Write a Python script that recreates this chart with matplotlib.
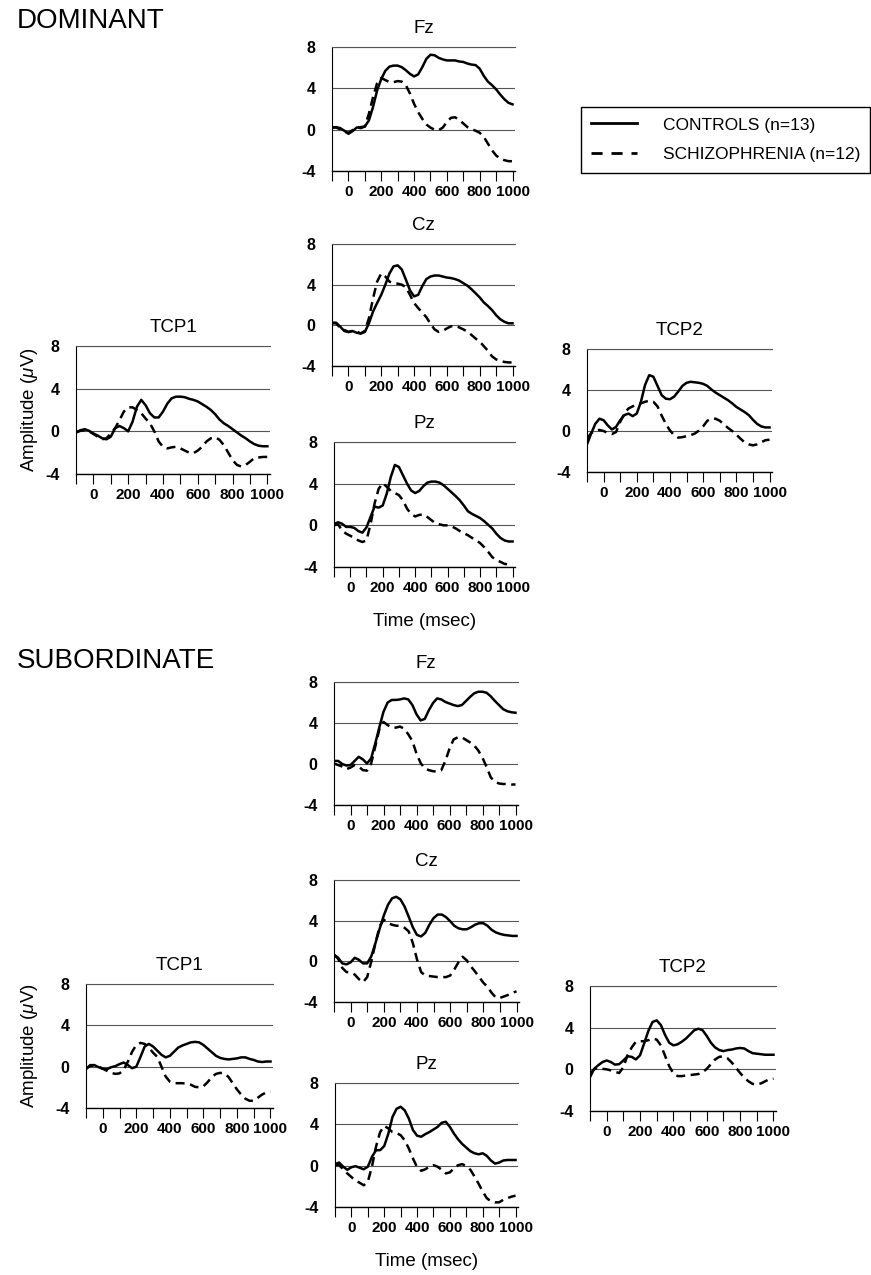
import numpy as np
import matplotlib
matplotlib.use('Agg')
from matplotlib import pyplot as plt
from matplotlib.lines import Line2D
from matplotlib.ticker import FixedLocator

plt.rcParams['font.family'] = ['Liberation Sans', 'DejaVu Sans']
plt.rcParams['axes.unicode_minus'] = False
plt.rcParams['mathtext.fontset'] = 'custom'
plt.rcParams['mathtext.rm'] = 'Liberation Sans'
plt.rcParams['mathtext.it'] = 'Liberation Sans:italic'

W, H = 871, 1275

# sample times (ms), one value every 25 ms
time_ms = np.arange(-100, 1001, 25)

# ---- DOMINANT ----
dom_fz_ctrl = [0.16, 0.25, 0.15, -0.1, -0.4, -0.15, 0.2, 0.25, 0.3, 0.9, 2.2, 3.8, 4.9, 5.7, 6.1,
               6.2, 6.2, 6.05, 5.75, 5.4, 5.15, 5.35, 6.05, 6.85, 7.25, 7.2, 6.95, 6.8, 6.7, 6.7,
               6.7, 6.6, 6.55, 6.4, 6.3, 6.25, 5.9, 5.2, 4.65, 4.3, 3.9, 3.4, 2.95, 2.6, 2.45]
dom_fz_scz = [0.25, 0.2, 0.05, -0.2, -0.3, -0.05, 0.25, 0.15, 0.3, 1.55, 3.15, 4.5, 5.0, 4.8, 4.6,
              4.6, 4.7, 4.65, 4.3, 3.5, 2.5, 1.7, 1.05, 0.5, 0.2, 0.0, -0.05, 0.2, 0.75, 1.15,
              1.2, 0.95, 0.6, 0.25, 0.05, -0.1, -0.3, -0.7, -1.35, -2.0, -2.5, -2.8, -2.95, -3.05, -3.05]

dom_cz_ctrl = [0.26, 0.26, -0.13, -0.56, -0.66, -0.56, -0.73, -0.8, -0.66, 0.2, 1.35, 2.2, 3.0, 4.0, 5.1,
               5.8, 5.9, 5.5, 4.5, 3.45, 2.85, 3.0, 3.85, 4.55, 4.8, 4.9, 4.9, 4.8, 4.7, 4.65,
               4.55, 4.4, 4.15, 3.9, 3.55, 3.15, 2.75, 2.25, 1.9, 1.5, 1.0, 0.6, 0.35, 0.2, 0.2]
dom_cz_scz = [0.2, 0.2, -0.25, -0.45, -0.65, -0.55, -0.6, -0.8, -0.55, 0.7, 2.65, 4.3, 5.1, 4.8, 4.3,
              4.15, 4.1, 4.0, 3.75, 3.0, 2.2, 1.7, 1.25, 0.8, 0.15, -0.4, -0.65, -0.55, -0.3, -0.1,
              -0.05, -0.2, -0.4, -0.6, -0.95, -1.3, -1.6, -2.05, -2.5, -3.05, -3.35, -3.5, -3.6, -3.65, -3.65]

dom_pz_ctrl = [0.1, 0.3, 0.15, -0.15, -0.15, -0.25, -0.55, -0.7, -0.2, 0.8, 1.8, 1.7, 1.9, 3.05, 4.65,
               5.8, 5.6, 4.8, 4.0, 3.35, 3.1, 3.3, 3.75, 4.1, 4.2, 4.2, 4.1, 3.85, 3.5, 3.15,
               2.8, 2.4, 1.9, 1.35, 1.1, 0.9, 0.7, 0.4, 0.05, -0.3, -0.8, -1.2, -1.45, -1.55, -1.55]
dom_pz_scz = [0.0, 0.1, -0.5, -0.8, -1.0, -1.2, -1.45, -1.6, -1.45, 0.1, 2.1, 3.5, 4.05, 3.7, 3.3,
              3.1, 2.9, 2.4, 1.6, 1.1, 0.85, 1.0, 1.05, 0.8, 0.5, 0.2, 0.1, 0.0, 0.0, -0.1,
              -0.3, -0.55, -0.75, -0.95, -1.2, -1.45, -1.7, -2.1, -2.55, -3.05, -3.35, -3.5, -3.7, -3.75, -3.7]

dom_tcp1_ctrl = [-0.1, 0.1, 0.2, 0.05, -0.2, -0.4, -0.65, -0.75, -0.5, 0.3, 0.5, 0.3, 0.0, 0.9, 2.3,
                 2.95, 2.45, 1.7, 1.3, 1.3, 1.85, 2.6, 3.1, 3.25, 3.25, 3.2, 3.05, 2.95, 2.8, 2.55,
                 2.3, 2.0, 1.6, 1.1, 0.75, 0.5, 0.2, -0.1, -0.4, -0.65, -0.95, -1.2, -1.35, -1.4, -1.4]
dom_tcp1_scz = [-0.1, 0.05, 0.1, 0.0, -0.25, -0.5, -0.75, -0.65, -0.2, 0.3, 1.05, 1.85, 2.25, 2.25, 2.0,
                1.7, 1.2, 0.75, 0.0, -0.95, -1.45, -1.6, -1.5, -1.45, -1.6, -1.8, -2.0, -2.05, -1.8, -1.45,
                -0.95, -0.65, -0.55, -0.8, -1.3, -2.0, -2.7, -3.15, -3.3, -3.15, -2.85, -2.5, -2.45, -2.4, -2.4]

dom_tcp2_ctrl = [-1.3, -0.25, 0.7, 1.2, 1.05, 0.55, 0.15, 0.4, 1.05, 1.55, 1.7, 1.45, 1.7, 2.85, 4.5,
                 5.45, 5.3, 4.4, 3.5, 3.15, 3.1, 3.35, 3.85, 4.4, 4.7, 4.8, 4.75, 4.7, 4.6, 4.4,
                 4.05, 3.75, 3.5, 3.25, 3.0, 2.7, 2.35, 2.1, 1.85, 1.55, 1.1, 0.7, 0.45, 0.35, 0.35]
dom_tcp2_scz = [-0.75, -0.2, 0.05, 0.1, 0.0, -0.2, -0.3, -0.1, 0.9, 1.7, 2.2, 2.4, 2.6, 2.7, 2.85,
                2.95, 2.85, 2.4, 1.5, 0.7, 0.05, -0.4, -0.65, -0.6, -0.5, -0.4, -0.25, 0.05, 0.45, 1.0,
                1.2, 1.2, 1.0, 0.65, 0.3, 0.0, -0.35, -0.75, -1.1, -1.3, -1.4, -1.3, -1.1, -0.9, -0.85]

# ---- SUBORDINATE ----
sub_fz_ctrl = [0.3, 0.3, 0.0, -0.15, -0.1, 0.3, 0.7, 0.45, 0.05, 0.55, 2.0, 3.6, 5.1, 6.0, 6.25,
               6.25, 6.3, 6.4, 6.3, 5.75, 4.85, 4.25, 4.4, 5.25, 5.95, 6.4, 6.3, 6.05, 5.9, 5.75,
               5.65, 5.75, 6.15, 6.55, 6.9, 7.05, 7.05, 6.95, 6.6, 6.15, 5.75, 5.35, 5.15, 5.05, 5.0]
sub_fz_scz = [0.05, -0.1, -0.25, -0.5, -0.35, -0.1, -0.25, -0.6, -0.65, 0.05, 1.7, 3.4, 4.1, 3.8, 3.55,
              3.55, 3.65, 3.45, 2.9, 2.25, 1.0, 0.1, -0.45, -0.6, -0.7, -0.75, -0.6, 0.3, 1.5, 2.4,
              2.6, 2.6, 2.35, 2.1, 1.8, 1.3, 0.6, -0.3, -1.3, -1.75, -1.9, -1.95, -1.95, -2.0, -2.0]

sub_cz_ctrl = [0.65, 0.35, -0.2, -0.3, -0.1, 0.35, 0.15, -0.2, -0.2, 0.5, 1.8, 3.2, 4.5, 5.55, 6.2,
               6.35, 6.1, 5.4, 4.4, 3.35, 2.6, 2.45, 2.8, 3.6, 4.25, 4.6, 4.6, 4.35, 3.95, 3.5,
               3.25, 3.15, 3.15, 3.35, 3.6, 3.75, 3.75, 3.5, 3.1, 2.85, 2.7, 2.6, 2.55, 2.5, 2.5]
sub_cz_scz = [0.65, 0.25, -0.65, -1.05, -1.1, -1.3, -1.75, -2.05, -1.55, 0.0, 1.8, 3.45, 4.1, 3.75, 3.6,
              3.5, 3.5, 3.3, 2.95, 1.8, 0.2, -1.05, -1.4, -1.45, -1.5, -1.55, -1.55, -1.55, -1.4, -0.8,
              -0.1, 0.45, 0.1, -0.5, -1.0, -1.55, -2.1, -2.5, -3.1, -3.55, -3.6, -3.45, -3.3, -3.1, -2.95]

sub_pz_ctrl = [0.15, 0.3, -0.1, -0.4, -0.15, -0.05, -0.2, -0.35, -0.1, 0.85, 1.5, 1.5, 1.9, 3.1, 4.7,
               5.5, 5.7, 5.35, 4.55, 3.45, 2.9, 2.8, 3.05, 3.25, 3.5, 3.75, 4.15, 4.25, 3.75, 3.1,
               2.55, 2.1, 1.75, 1.4, 1.2, 1.1, 1.2, 0.95, 0.5, 0.2, 0.3, 0.5, 0.55, 0.55, 0.55]
sub_pz_scz = [0.05, 0.05, -0.35, -0.75, -1.1, -1.45, -1.65, -1.9, -1.55, -0.1, 1.85, 3.25, 3.85, 3.6, 3.25,
              3.15, 2.95, 2.45, 1.65, 0.7, -0.15, -0.5, -0.35, -0.1, 0.05, -0.1, -0.4, -0.75, -0.65, -0.25,
              0.05, 0.15, -0.05, -0.4, -1.05, -1.75, -2.5, -3.15, -3.45, -3.55, -3.55, -3.3, -3.15, -3.0, -2.9]

sub_tcp1_ctrl = [-0.25, 0.15, 0.15, -0.05, -0.2, -0.25, -0.05, 0.05, 0.25, 0.4, 0.15, -0.15, 0.0, 0.95, 1.95,
                 2.2, 1.95, 1.55, 1.15, 0.9, 1.05, 1.45, 1.85, 2.05, 2.2, 2.35, 2.4, 2.35, 2.1, 1.75,
                 1.4, 1.05, 0.85, 0.75, 0.7, 0.75, 0.8, 0.9, 0.9, 0.75, 0.65, 0.5, 0.45, 0.5, 0.5]
sub_tcp1_scz = [-0.15, 0.05, 0.15, 0.0, -0.2, -0.4, -0.6, -0.7, -0.65, -0.3, 0.5, 1.45, 2.1, 2.3, 2.2,
                1.85, 1.35, 0.95, 0.0, -0.95, -1.45, -1.6, -1.6, -1.6, -1.65, -1.75, -1.95, -2.0, -1.9, -1.5,
                -1.0, -0.7, -0.6, -0.65, -1.0, -1.6, -2.2, -2.7, -3.1, -3.3, -3.3, -3.0, -2.7, -2.5, -2.45]

sub_tcp2_ctrl = [-0.75, 0.05, 0.4, 0.7, 0.85, 0.7, 0.45, 0.5, 0.85, 1.25, 1.2, 0.95, 1.35, 2.5, 3.7,
                 4.55, 4.7, 4.25, 3.3, 2.55, 2.3, 2.4, 2.65, 2.95, 3.35, 3.75, 3.9, 3.75, 3.2, 2.55,
                 2.1, 1.85, 1.75, 1.85, 1.9, 2.0, 2.05, 2.0, 1.75, 1.55, 1.5, 1.45, 1.4, 1.4, 1.4]
sub_tcp2_scz = [-0.4, 0.0, 0.15, 0.05, 0.0, -0.1, -0.25, -0.35, 0.2, 1.35, 2.1, 2.65, 2.7, 2.7, 2.8,
                2.95, 2.85, 2.3, 1.3, 0.3, -0.4, -0.65, -0.65, -0.6, -0.55, -0.5, -0.45, -0.3, 0.05, 0.5,
                0.95, 1.2, 1.25, 1.05, 0.65, 0.15, -0.35, -0.8, -1.15, -1.4, -1.45, -1.35, -1.15, -0.95, -0.9]

# panel boxes in pixels: left, right, top (8 uV line), bottom (-4 uV line)
panels = [
    ('Fz',   332, 515, 47, 171,   dom_fz_ctrl, dom_fz_scz, ''),
    ('Cz',   332, 515, 244, 366,  dom_cz_ctrl, dom_cz_scz, ''),
    ('Pz',   334, 515, 442, 567,  dom_pz_ctrl, dom_pz_scz, 'time'),
    ('TCP1', 76, 270, 346, 474,   dom_tcp1_ctrl, dom_tcp1_scz, 'amp'),
    ('TCP2', 587, 772, 349, 472,  dom_tcp2_ctrl, dom_tcp2_scz, ''),
    ('Fz',   334, 518, 682, 805,  sub_fz_ctrl, sub_fz_scz, ''),
    ('Cz',   334, 519, 880, 1002, sub_cz_ctrl, sub_cz_scz, ''),
    ('Pz',   335, 518, 1083, 1207, sub_pz_ctrl, sub_pz_scz, 'time'),
    ('TCP1', 86, 273, 984, 1108,  sub_tcp1_ctrl, sub_tcp1_scz, 'amp'),
    ('TCP2', 590, 776, 986, 1111, sub_tcp2_ctrl, sub_tcp2_scz, ''),
]

dash = (0, (3.6, 2.2))
fig = plt.figure(figsize=(W / 100, H / 100), dpi=100)

for name, left, right, top, bottom, ctrl, scz, extra in panels:
    ax = fig.add_axes([left / W, 1 - bottom / H, (right - left) / W, (bottom - top) / H])
    ax.plot(time_ms, ctrl, color='black', lw=1.8)
    ax.plot(time_ms, scz, color='black', lw=1.8, ls=dash)
    ax.set_xlim(-100, 1015)
    ax.set_ylim(-4, 8)
    ax.xaxis.set_major_locator(FixedLocator([0, 200, 400, 600, 800, 1000]))
    ax.xaxis.set_minor_locator(FixedLocator([-100, 100, 300, 500, 700, 900]))
    ax.set_yticks([-4, 0, 4, 8])
    ax.set_yticklabels(['-4', '0', '4', '8'])
    ax.tick_params(axis='x', which='both', direction='out', length=7, width=0.8,
                   pad=3, labelsize=11)
    ax.tick_params(axis='y', length=0, pad=12, labelsize=11.5)
    for lab in ax.get_xticklabels() + ax.get_yticklabels():
        lab.set_fontweight('bold')
    ax.grid(axis='y', color='#555555', lw=0.8)
    ax.grid(axis='x', visible=False)
    ax.spines['right'].set_visible(False)
    ax.spines['top'].set_color('#555555')
    ax.spines['top'].set_linewidth(0.8)
    ax.spines['left'].set_linewidth(0.8)
    ax.spines['bottom'].set_linewidth(1.0)
    ax.set_title(name, fontsize=13.5, pad=10)
    if extra == 'time':
        ax.set_xlabel('Time (msec)', fontsize=13.5, labelpad=13)
    elif extra == 'amp':
        ax.set_ylabel(r'Amplitude ($\mu$V)', fontsize=13.5)
        ax.yaxis.set_label_coords((40 - left) / (right - left), 0.5)

fig.text(17 / W, 1 - 21 / H, 'DOMINANT', fontsize=20, ha='left', va='center')
fig.text(17 / W, 1 - 661 / H, 'SUBORDINATE', fontsize=20, ha='left', va='center')

# legend keys
key_ctrl = Line2D([], [], color='black', lw=2.0)
key_scz = Line2D([], [], color='black', lw=2.0, ls=(0, (4.0, 3.2)))
leg = fig.legend(handles=[key_ctrl, key_scz], labels=['CONTROLS (n=13)', 'SCHIZOPHRENIA (n=12)'],
                 loc='upper left', bbox_to_anchor=(581 / W, 1 - 171 / H, 289 / W, 64 / H),
                 mode='expand', borderaxespad=0, frameon=True, fancybox=False,
                 edgecolor='black', framealpha=1, fontsize=12.5, handlelength=2.6,
                 handletextpad=1.5, borderpad=0.6, labelspacing=0.85)
leg.get_frame().set_linewidth(1.0)

fig.savefig('out.png', dpi=100)
